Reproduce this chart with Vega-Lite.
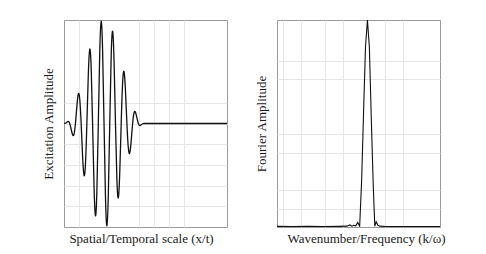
{
  "$schema": "https://vega.github.io/schema/vega-lite/v6.json",
  "background": "white",
  "padding": {"left": 41, "top": 19, "right": 5, "bottom": 5},
  "spacing": 26,
  "datasets": {
    "burst": [
      {"x": 0, "y": 0}, {"x": 1, "y": 0.0022}, {"x": 2, "y": 0.0125}, {"x": 3, "y": 0.0198},
      {"x": 4, "y": 0}, {"x": 5, "y": -0.0542}, {"x": 6, "y": -0.1091}, {"x": 7, "y": -0.1036},
      {"x": 8, "y": 0}, {"x": 9, "y": 0.1655}, {"x": 10, "y": 0.2831}, {"x": 11, "y": 0.2368},
      {"x": 12, "y": 0}, {"x": 13, "y": -0.314}, {"x": 14, "y": -0.5}, {"x": 15, "y": -0.3932},
      {"x": 16, "y": 0}, {"x": 17, "y": 0.4704}, {"x": 18, "y": 0.7169}, {"x": 19, "y": 0.5415},
      {"x": 20, "y": 0}, {"x": 21, "y": -0.6036}, {"x": 22, "y": -0.8909}, {"x": 23, "y": -0.653},
      {"x": 24, "y": 0}, {"x": 25, "y": 0.6873}, {"x": 26, "y": 0.9875}, {"x": 27, "y": 0.7049},
      {"x": 28, "y": 0}, {"x": 29, "y": -0.7049}, {"x": 30, "y": -0.9875}, {"x": 31, "y": -0.6873},
      {"x": 32, "y": 0}, {"x": 33, "y": 0.653}, {"x": 34, "y": 0.8909}, {"x": 35, "y": 0.6036},
      {"x": 36, "y": 0}, {"x": 37, "y": -0.5415}, {"x": 38, "y": -0.7169}, {"x": 39, "y": -0.4704},
      {"x": 40, "y": 0}, {"x": 41, "y": 0.3932}, {"x": 42, "y": 0.5}, {"x": 43, "y": 0.314},
      {"x": 44, "y": 0}, {"x": 45, "y": -0.2368}, {"x": 46, "y": -0.2831}, {"x": 47, "y": -0.1655},
      {"x": 48, "y": 0}, {"x": 49, "y": 0.1036}, {"x": 50, "y": 0.1091}, {"x": 51, "y": 0.0542},
      {"x": 52, "y": 0}, {"x": 53, "y": -0.0198}, {"x": 54, "y": -0.0125}, {"x": 55, "y": -0.0022},
      {"x": 56, "y": 0}, {"x": 58, "y": 0}, {"x": 62, "y": 0}, {"x": 70, "y": 0},
      {"x": 80, "y": 0}, {"x": 90, "y": 0}, {"x": 100, "y": 0}, {"x": 114, "y": 0}
    ],
    "spectrum": [
      {"x": 0, "y": 0.003}, {"x": 4, "y": 0.002}, {"x": 8, "y": 0.003}, {"x": 12, "y": 0.002},
      {"x": 16, "y": 0.003}, {"x": 18, "y": 0.004}, {"x": 18.8, "y": 0.01}, {"x": 19.3, "y": 0.004},
      {"x": 19.8, "y": 0.008}, {"x": 20.3, "y": 0.006}, {"x": 20.8, "y": 0.022}, {"x": 21.3, "y": 0.004},
      {"x": 21.8, "y": 0.22}, {"x": 22.3, "y": 0.55}, {"x": 22.8, "y": 0.87}, {"x": 23.3, "y": 1.0},
      {"x": 23.8, "y": 0.87}, {"x": 24.3, "y": 0.52}, {"x": 24.8, "y": 0.2}, {"x": 25.2, "y": 0.004},
      {"x": 25.55, "y": 0.025}, {"x": 26.0, "y": 0.008}, {"x": 26.5, "y": 0.004}, {"x": 28, "y": 0.002},
      {"x": 32, "y": 0.002}, {"x": 36, "y": 0.002}, {"x": 42, "y": 0.002}
    ]
  },
  "hconcat": [
    {
      "width": 163,
      "height": 207,
      "data": {"name": "burst"},
      "mark": {"type": "line", "interpolate": "natural", "color": "#111111", "strokeWidth": 1.3, "clip": true},
      "encoding": {
        "x": {"field": "x", "type": "quantitative", "scale": {"domain": [0, 114], "nice": false, "zero": false},
          "axis": {"title": "Spatial/Temporal scale (x/t)", "values": [10.5, 52.5, 63, 73.5, 84], "titlePadding": 5, "titleX": 77}},
        "y": {"field": "y", "type": "quantitative", "scale": {"domain": [-1, 1], "nice": false},
          "axis": {"title": "Excitation Amplitude", "values": [0.2, 0, -0.2, -0.4, -0.6, -0.8], "titlePadding": 9}}
      }
    },
    {
      "width": 163,
      "height": 207,
      "data": {"name": "spectrum"},
      "mark": {"type": "line", "interpolate": "linear", "color": "#111111", "strokeWidth": 1.1, "clip": true},
      "encoding": {
        "x": {"field": "x", "type": "quantitative", "scale": {"domain": [0, 42], "nice": false, "zero": false},
          "axis": {"title": "Wavenumber/Frequency (k/ω)", "values": [1.5, 6.1, 12.3, 17, 27.7, 32.4], "titlePadding": 5, "titleX": 89}},
        "y": {"field": "y", "type": "quantitative", "scale": {"domain": [0, 1], "nice": false},
          "axis": {"title": "Fourier Amplitude", "values": [0.089, 0.179, 0.356, 0.448, 0.713, 0.8], "titlePadding": 9}}
      }
    }
  ],
  "config": {
    "view": {"stroke": "#999999", "strokeWidth": 1},
    "axis": {
      "labels": false, "ticks": false, "domain": false, "minExtent": 0,
      "grid": true, "gridColor": "#e6e6e6", "gridWidth": 1,
      "titleFont": "Liberation Serif", "titleFontSize": 13, "titleFontWeight": "normal", "titleColor": "#1a1a1a"
    }
  }
}
